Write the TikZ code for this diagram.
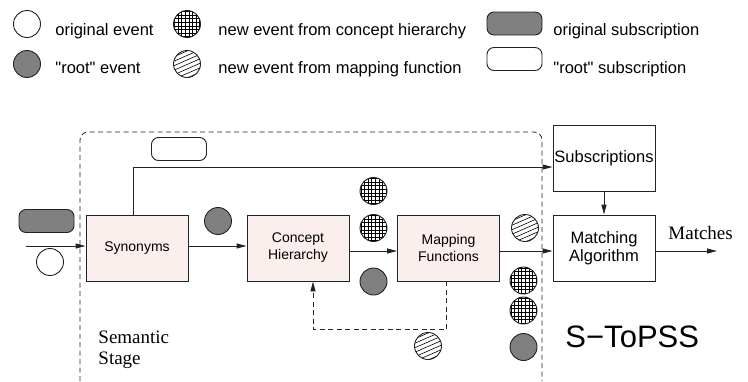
\documentclass[tikz,border=0pt]{standalone}
\usepackage{fontspec}
\setmainfont{Liberation Sans}
\newfontfamily\serifrm{Liberation Serif}
\usetikzlibrary{arrows.meta,calc}
\definecolor{boxpink}{RGB}{250,239,236}
\definecolor{tokgray}{RGB}{128,128,128}
\definecolor{linec}{RGB}{35,35,35}
\begin{document}
\begin{tikzpicture}[x=1pt,y=-1pt,line width=0.9pt,draw=linec,
  arr/.style={-{Triangle[length=10pt,width=5pt]},draw=linec},
  dashline/.style={dash pattern=on 5pt off 3.5pt},
  blk/.style={draw=linec,fill=boxpink,minimum width=102pt,minimum height=66pt,inner sep=0pt,
    font=\fontsize{14}{17}\selectfont,align=center},
  wblk/.style={draw=linec,fill=white,minimum width=102pt,minimum height=66pt,inner sep=0pt,
    font=\fontsize{16.5}{18}\selectfont,align=center},
  tok/.style={circle,draw=linec,minimum size=27pt,inner sep=0pt,line width=0.9pt},
  graytok/.style={tok,fill=tokgray},
  whitetok/.style={tok,fill=white},
  gridtok/.style={tok,fill=white,path picture={
      \foreach \d in {-12.6,-9,...,12.7}{
        \draw[line width=0.6pt,draw=black] ($(path picture bounding box.center)+(\d,-15)$) -- ++(0,30);
        \draw[line width=0.6pt,draw=black] ($(path picture bounding box.center)+(-15,\d)$) -- ++(30,0);}}},
  diagtok/.style={tok,fill=white,path picture={
      \foreach \d in {-22,-17.5,...,22}{
        \draw[line width=0.6pt,draw=black] ($(path picture bounding box.center)+(-16,\d+7)$) -- ++(32,-14);}}},
  subs/.style={draw=linec,rounded corners=7pt,minimum width=55pt,minimum height=23pt,inner sep=0pt,line width=0.9pt},
  lgtxt/.style={anchor=base west,inner sep=0pt,font=\fontsize{16.5}{19}\selectfont}
]
\useasboundingbox (0,0) rectangle (748,381);
% legend
\node[whitetok] (lw) at (27,24) {};
\node[lgtxt] (lwt) at (55,35) {original event};
\node[graytok] (lg) at (27,64) {};
\node[lgtxt] (lgt) at (55,73) {\textquotedbl root\textquotedbl{} event};
\node[gridtok] (lh) at (187,24) {};
\node[lgtxt] (lht) at (218,35) {new event from concept hierarchy};
\node[diagtok] (ld) at (187,64) {};
\node[lgtxt] (ldt) at (218,73) {new event from mapping function};
\node[subs,fill=tokgray] (lsg) at (514.5,23.5) {};
\node[lgtxt] (lsgt) at (553,35) {original subscription};
\node[subs,fill=white] (lsw) at (514.5,59) {};
\node[lgtxt] (lswt) at (553,73) {\textquotedbl root\textquotedbl{} subscription};
% semantic stage box
\draw[dashline,line width=0.8pt] (80,381) -- (80,140) arc[start angle=180,end angle=270,radius=8] -- (534,132) arc[start angle=270,end angle=360,radius=8] -- (542,381);
% blocks
\node[blk] (syn) at (137,248) {Synonyms};
\node[blk] (con) at (298,248) {Concept\\Hierarchy};
\node[blk] (map) at (448.5,248) {Mapping\\Functions};
\node[wblk] (sub) at (604,158) {Subscriptions};
\node[wblk] (mat) at (604,248) {Matching\\Algorithm};
% connectors
\coordinate (in) at (26,246);
\coordinate (out) at (717,251);
\draw[arr] (in) -- ([yshift=2pt]syn.west);
\draw[arr] ([yshift=2pt]syn.east) -- ([yshift=2pt]con.west);
\draw[arr] ([yshift=-3pt]con.east) -- ([yshift=-3pt]map.west);
\draw[arr] ([yshift=-3pt]map.east) -- ([yshift=-3pt]mat.west);
\draw[arr] ([yshift=-3pt]mat.east) -- (out);
\draw[arr] ([xshift=-4pt]syn.north) |- ($(sub.west)+(0,9)$);
\draw[arr] (sub) -- (mat);
\draw[arr,dashline] ([xshift=-2pt]map.south) -- ++(0,48) -| ([xshift=15pt]con.south);
\node[anchor=base west,inner sep=0pt,font=\serifrm\fontsize{19}{21}\selectfont] (mt) at (668,239) {Matches};
% tokens in diagram
\node[subs,fill=tokgray] (insub) at (46.5,221) {};
\node[whitetok] (inw) at (50,262) {};
\node[subs,fill=white] (rsub) at (179,149) {};
\node[graytok] (g1) at (218,221) {};
\node[gridtok] (h1) at (373.5,191) {};
\node[gridtok] (h2) at (373.5,228) {};
\node[graytok] (g2) at (373.5,281.5) {};
\node[diagtok] (d1) at (525,228) {};
\node[gridtok] (h3) at (523.5,280.5) {};
\node[gridtok] (h4) at (523.5,310.5) {};
\node[graytok] (g3) at (523.5,347) {};
\node[diagtok] (d2) at (428,346) {};
% labels
\node[anchor=west,align=left,inner sep=0pt,font=\serifrm\fontsize{19}{21}\selectfont] (ss) at (98,350) {Semantic\\Stage};
\node[anchor=base west,inner sep=0pt,font=\fontsize{31}{34}\selectfont] (st) at (565,347) {S−ToPSS};
\end{tikzpicture}
\end{document}
